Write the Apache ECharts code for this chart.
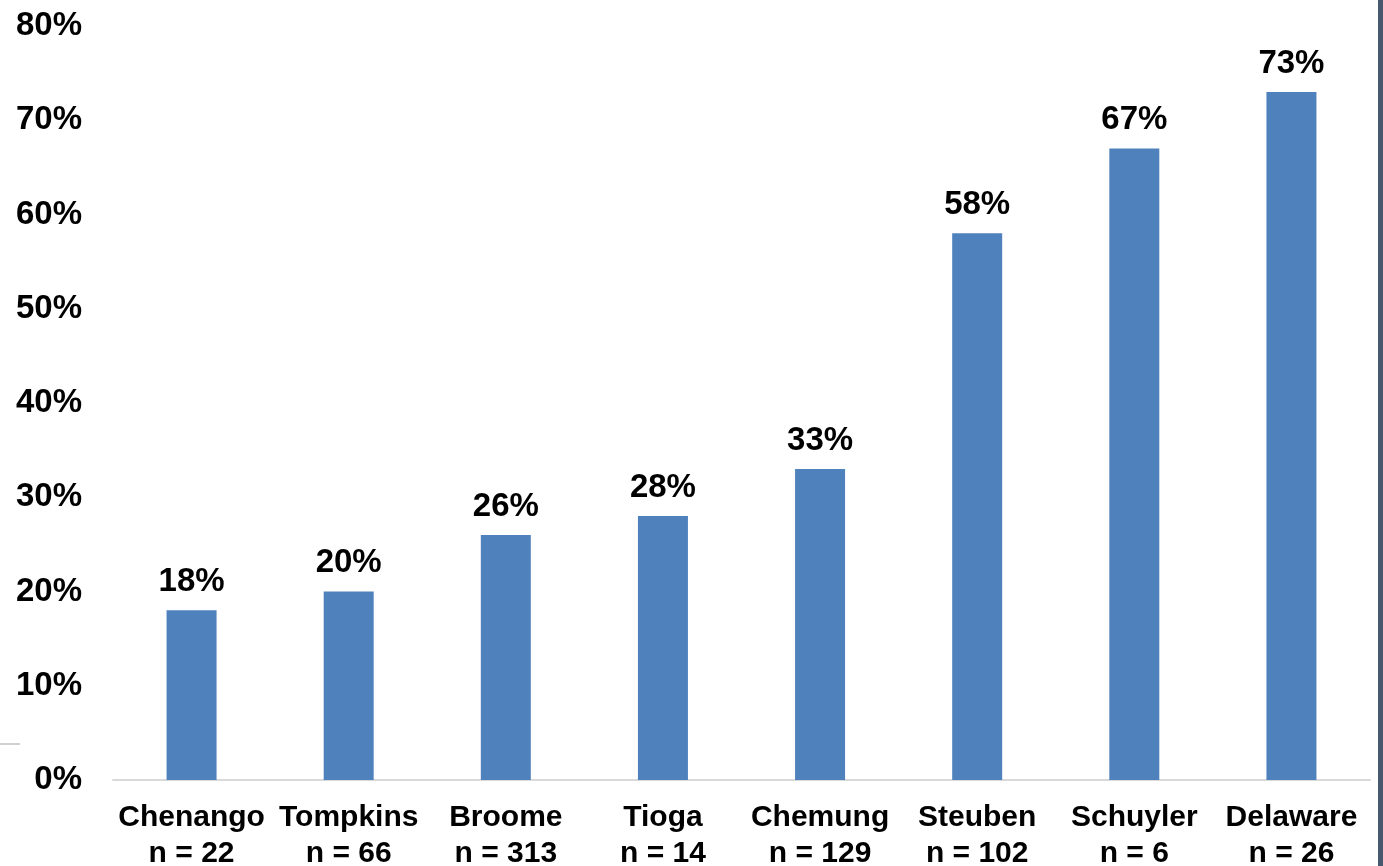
<!DOCTYPE html>
<html>
<head>
<meta charset="utf-8">
<script src="https://cdn.jsdelivr.net/npm/echarts@6/dist/echarts.min.js"></script>
<style>
  html, body { margin: 0; padding: 0; background: #fff; }
  #chart { width: 1383px; height: 866px; }
</style>
</head>
<body>
<div id="chart"></div>
<script>
const counties = ['Chenango', 'Tompkins', 'Broome', 'Tioga', 'Chemung', 'Steuben', 'Schuyler', 'Delaware'];
const sampleSizes = [22, 66, 313, 14, 129, 102, 6, 26];
const percents = [18, 20, 26, 28, 33, 58, 67, 73];
const yTicks = [0, 10, 20, 30, 40, 50, 60, 70, 80];

const font = '"Liberation Sans", Arial, sans-serif';

const chart = echarts.init(document.getElementById('chart'));
chart.setOption({
  animation: false,
  grid: { left: 113, right: 13, top: 26, bottom: 86, outerBoundsMode: 'none' },
  xAxis: {
    type: 'category',
    data: counties,
    axisLine: { lineStyle: { color: '#d9d9d9', width: 2 } },
    axisTick: { show: false },
    axisLabel: {
      interval: 0,
      margin: 20,
      color: '#000',
      fontFamily: font,
      fontWeight: 'bold',
      fontSize: 30,
      lineHeight: 36,
      formatter: (v, i) => v + '\nn = ' + sampleSizes[i]
    }
  },
  yAxis: {
    type: 'value',
    min: yTicks[0],
    max: yTicks[yTicks.length - 1],
    interval: 10,
    splitLine: { show: false },
    axisLine: { show: false },
    axisTick: { show: false },
    axisLabel: {
      margin: 31,
      color: '#000',
      fontFamily: font,
      fontWeight: 'bold',
      fontSize: 33,
      formatter: '{value}%'
    }
  },
  series: [{
    type: 'bar',
    data: percents,
    barWidth: 50,
    itemStyle: { color: '#4f81bd' },
    label: {
      show: true,
      position: 'top',
      distance: 12,
      color: '#000',
      fontFamily: font,
      fontWeight: 'bold',
      fontSize: 33,
      formatter: '{c}%'
    }
  }],
  graphic: [
    { type: 'rect', left: 1378, top: 0, shape: { width: 5, height: 866 }, style: { fill: '#46596f' } },
    { type: 'rect', left: 0, top: 743, shape: { width: 20, height: 2 }, style: { fill: '#d0d0d0' } }
  ]
});
</script>
</body>
</html>
